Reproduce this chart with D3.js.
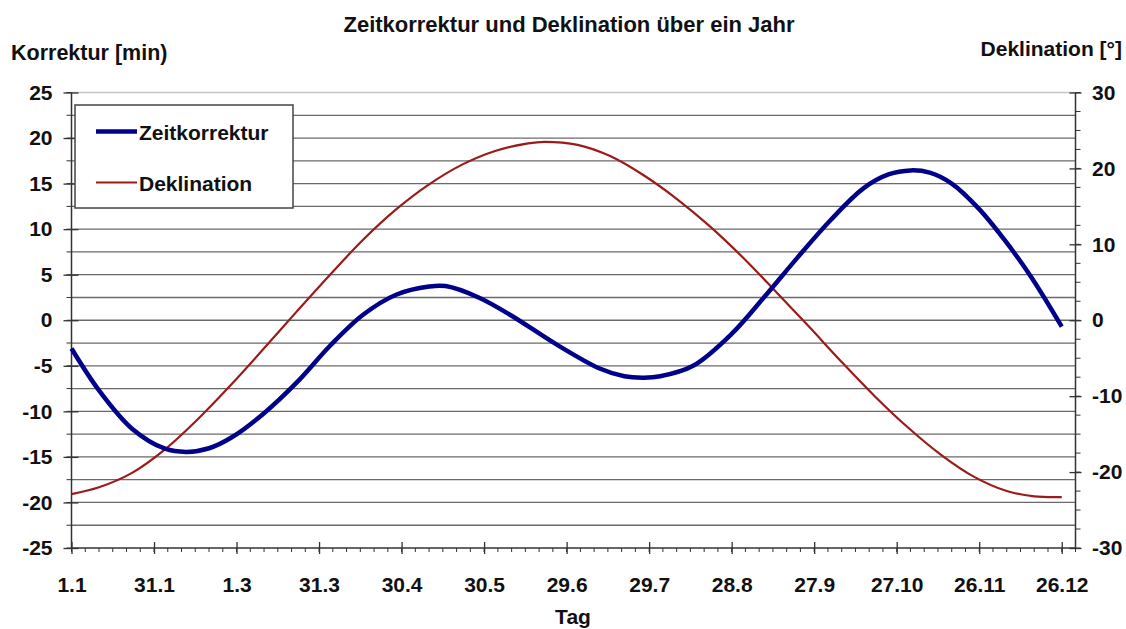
<!DOCTYPE html>
<html>
<head>
<meta charset="utf-8">
<title>Zeitkorrektur und Deklination</title>
<script src="https://d3js.org/d3.v7.min.js"></script>
<style>
  body { margin: 0; background: white; }
  text { font-family: "Liberation Sans", Arial, sans-serif; font-weight: bold; fill: #111; }
</style>
</head>
<body>
<svg width="1126" height="629"></svg>

<script type="text/javascript">

// Zeitkorrektur (Zeitgleichung) in Minuten, Tag 0 = 1. Januar
var zeitTage  = [0, 10, 22, 34, 42, 50, 58, 70, 82, 94, 106, 118, 130, 136, 148, 160, 176, 192,
                 201, 208, 214, 226, 240, 252, 264, 276, 288, 297, 305, 312, 320, 330, 339, 349, 360];
var zeitWerte = [-3.1, -7.7, -11.9, -14.1, -14.45, -14.05, -12.9, -10.2, -6.8, -2.8, 0.6, 2.8, 3.7, 3.75, 2.5, 0.5, -2.6, -5.3,
                 -6.15, -6.3, -6.15, -5.0, -1.5, 2.6, 6.9, 11.0, 14.5, 16.0, 16.45, 16.2, 15.0, 12.2, 8.9, 4.7, -0.7];

// Deklination der Sonne in Grad
var deklTage  = [0, 10, 22, 34, 46, 58, 70, 82, 94, 106, 118, 130, 142, 154, 166, 172, 184, 196,
                 208, 220, 232, 244, 256, 268, 280, 292, 304, 316, 328, 340, 350, 360];
var deklWerte = [-22.9, -22.0, -20.1, -17.0, -13.0, -8.5, -3.7, 1.2, 6.0, 10.6, 14.6, 17.9, 20.5, 22.3, 23.3, 23.5, 23.1, 21.6,
                 19.1, 16.0, 12.4, 8.3, 3.8, -0.8, -5.5, -10.0, -14.1, -17.7, -20.6, -22.5, -23.2, -23.3];

// Beschriftung der x-Achse, alle 30 Tage
var tagLabels = ["1.1", "31.1", "1.3", "31.3", "30.4", "30.5", "29.6", "29.7", "28.8", "27.9", "27.10", "26.11", "26.12"];

var zeitTicks = [-25, -20, -15, -10, -5, 0, 5, 10, 15, 20, 25];
var deklTicks = [-30, -20, -10, 0, 10, 20, 30];

var plotLeft = 71.5, plotRight = 1075.5, plotTop = 92.5, plotBottom = 548;

var svg = d3.select("svg");

var x = d3.scaleLinear().domain([0, 365]).range([plotLeft, plotRight]);
var yL = d3.scaleLinear().domain([-25, 25]).range([plotBottom, plotTop]);
var yR = d3.scaleLinear().domain([-30, 30]).range([plotBottom, plotTop]);

// plain hyphen as minus sign, like the original
var fmt = function(d) { return String(d); };

// horizontal grid lines every 2.5 min
svg.append("g").selectAll("line")
    .data(d3.range(-22.5, 25.1, 2.5))
  .enter().append("line")
    .attr("x1", plotLeft).attr("x2", plotRight)
    .attr("y1", function(d) { return yL(d); })
    .attr("y2", function(d) { return yL(d); })
    .style("stroke", function(d) { return d == 25 ? "#c4c4c4" : "#6a6a6a"; })
    .style("stroke-width", 1.3);

// minor ticks
svg.append("g").selectAll("line")
    .data(d3.range(-25, 25.1, 2.5))
  .enter().append("line")
    .attr("x1", plotLeft - 5).attr("x2", plotLeft)
    .attr("y1", function(d) { return yL(d); }).attr("y2", function(d) { return yL(d); })
    .style("stroke", "#333");

svg.append("g").selectAll("line")
    .data(d3.range(-30, 30.1, 2.5))
  .enter().append("line")
    .attr("x1", plotRight).attr("x2", plotRight + 5)
    .attr("y1", function(d) { return yR(d); }).attr("y2", function(d) { return yR(d); })
    .style("stroke", "#333");

svg.append("g").selectAll("line")
    .data(d3.range(0, 366, 5))
  .enter().append("line")
    .attr("x1", function(d) { return x(d); }).attr("x2", function(d) { return x(d); })
    .attr("y1", plotBottom).attr("y2", plotBottom + 4)
    .style("stroke", "#333");

// axes
var axisL = svg.append("g")
    .attr("transform", "translate(" + plotLeft + ",0)")
    .call(d3.axisLeft(yL).tickValues(zeitTicks).tickFormat(fmt).tickSize(8).tickPadding(11));

var axisR = svg.append("g")
    .attr("transform", "translate(" + plotRight + ",0)")
    .call(d3.axisRight(yR).tickValues(deklTicks).tickFormat(fmt).tickSize(6).tickPadding(10.5));

var axisB = svg.append("g")
    .attr("transform", "translate(0," + plotBottom + ")")
    .call(d3.axisBottom(x).tickValues(d3.range(0, 361, 30)).tickSize(6).tickPadding(23)
          .tickFormat(function(d, i) { return tagLabels[i]; }));

axisL.selectAll(".tick line").attr("x1", 7);
axisR.selectAll(".tick line").attr("x1", -6);
axisB.selectAll(".tick line").attr("y1", -6);

[axisL, axisR, axisB].forEach(function(a) {
  a.select(".domain").style("stroke", "#333").style("stroke-width", 1.5);
  a.selectAll(".tick line").style("stroke", "#333").style("stroke-width", 1.3);
  a.selectAll("text").style("font-size", "21px").style("font-family", "Liberation Sans, Arial, sans-serif")
    .style("font-weight", "bold").style("fill", "#111");
});
axisL.select(".domain").attr("d", "M0," + plotTop + "V" + plotBottom);
axisR.select(".domain").attr("d", "M0," + plotTop + "V" + plotBottom);
axisB.select(".domain").attr("d", "M" + plotLeft + ",0H" + plotRight);

// curves
var zeitLine = d3.line()
    .x(function(d) { return x(d[0]); })
    .y(function(d) { return yL(d[1]); })
    .curve(d3.curveCatmullRom.alpha(0.5));

var deklLine = d3.line()
    .x(function(d) { return x(d[0]); })
    .y(function(d) { return yR(d[1]); })
    .curve(d3.curveCatmullRom.alpha(0.5));

svg.append("path")
    .datum(d3.zip(deklTage, deklWerte))
    .attr("d", deklLine)
    .style("fill", "none").style("stroke", "#9c1a1a").style("stroke-width", 2.2);

svg.append("path")
    .datum(d3.zip(zeitTage, zeitWerte))
    .attr("d", zeitLine)
    .style("fill", "none").style("stroke", "#00008b").style("stroke-width", 4.5)
    .style("stroke-linejoin", "round");

// legend
var legend = svg.append("g");
legend.append("rect")
    .attr("x", 75).attr("y", 105).attr("width", 218).attr("height", 103)
    .style("fill", "white").style("stroke", "#444").style("stroke-width", 1.5);

var legendItems = [
  { name: "Zeitkorrektur", color: "#00008b", width: 4.5, y: 131.5 },
  { name: "Deklination",   color: "#9c1a1a", width: 2, y: 182.5 }
];
legend.selectAll(".item")
    .data(legendItems)
  .enter().append("line")
    .attr("x1", 96).attr("x2", 137)
    .attr("y1", function(d) { return d.y; }).attr("y2", function(d) { return d.y; })
    .style("stroke", function(d) { return d.color; })
    .style("stroke-width", function(d) { return d.width; });
legend.selectAll("text")
    .data(legendItems)
  .enter().append("text")
    .attr("x", 139)
    .attr("y", function(d) { return d.y + 8; })
    .style("font-size", "21px")
    .text(function(d) { return d.name; });

// titles
svg.append("text")
    .attr("x", 569).attr("y", 32)
    .attr("text-anchor", "middle")
    .style("font-size", "22px")
    .text("Zeitkorrektur und Deklination über ein Jahr");

svg.append("text")
    .attr("x", 11).attr("y", 60)
    .style("font-size", "21.5px")
    .text("Korrektur [min)");

svg.append("text")
    .attr("x", 1122).attr("y", 56)
    .attr("text-anchor", "end")
    .style("font-size", "21px")
    .text("Deklination [°]");

svg.append("text")
    .attr("x", 573).attr("y", 624)
    .attr("text-anchor", "middle")
    .style("font-size", "21px")
    .text("Tag");

</script>
</body>
</html>
